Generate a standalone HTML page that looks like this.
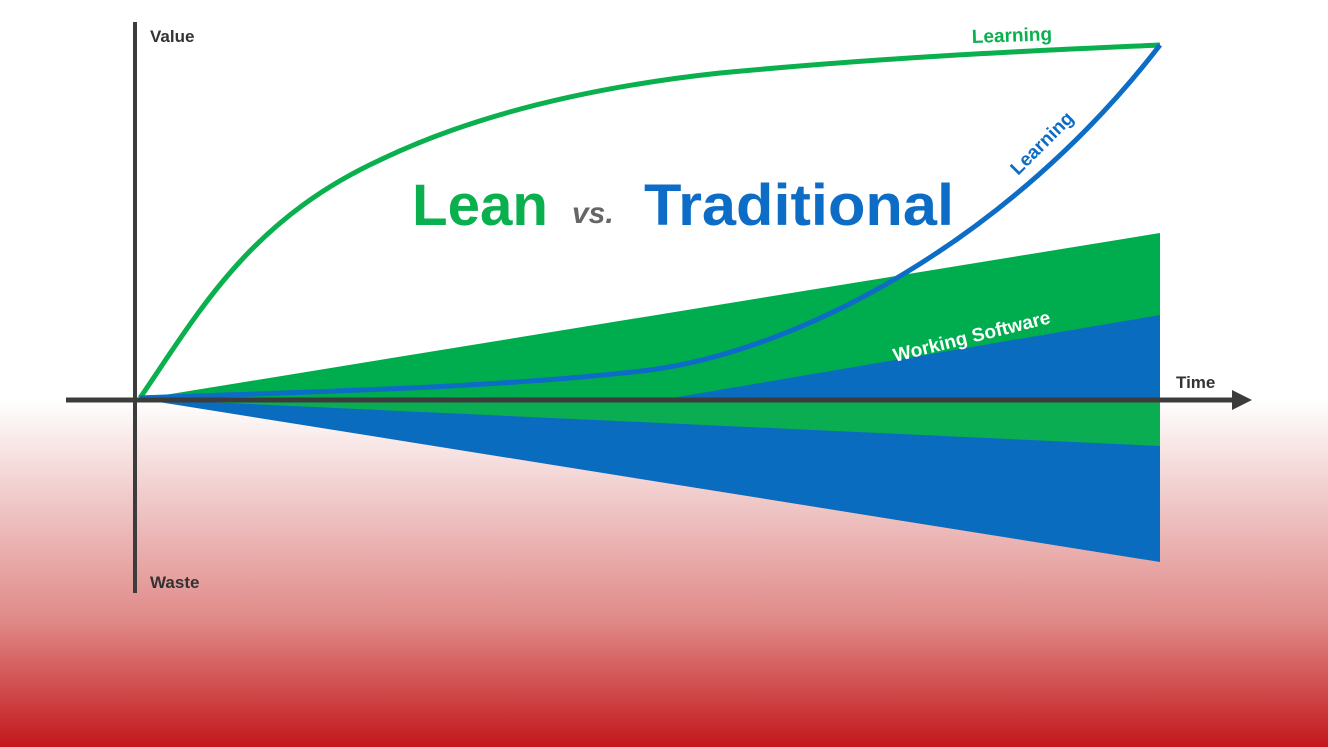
<!DOCTYPE html>
<html><head><style>
html,body{margin:0;padding:0;}
body{width:1328px;height:747px;overflow:hidden;background:linear-gradient(to bottom,#fff 0,#fff 400px,#f0c9c9 500px,#e08a88 620px,#c3171b 747px);font-family:"Liberation Sans",sans-serif;}
</style></head><body>
<svg width="1328" height="747" viewBox="0 0 1328 747" xmlns="http://www.w3.org/2000/svg" style="position:absolute;left:0;top:0">
<polygon points="140,399 1160,233 1160,400" fill="#00ad4e"/>
<polygon points="660,400 1160,315 1160,400" fill="#0a6cbe"/>
<polygon points="140,399 1160,562 1160,400" fill="#0a6cbe"/>
<polygon points="140,399 1160,446 1160,400" fill="#0aad52"/>
<path d="M140,398 C200,310 250,220 380,160 C480,112 600,86 720,73 C900,56 1050,50 1160,45" fill="none" stroke="#0aaf4e" stroke-width="5"/>
<path d="M140,398 C300,392 500,388 650,370 C800,350 1010,240 1160,45" fill="none" stroke="#0d6cc6" stroke-width="5"/>
<line x1="135" y1="22" x2="135" y2="593" stroke="#3c3c3c" stroke-width="4"/>
<line x1="66" y1="400" x2="1238" y2="400" stroke="#3c3c3c" stroke-width="5"/>
<polygon points="1232,390 1252,400 1232,410" fill="#3c3c3c"/>
<text x="150" y="42" font-size="17" font-weight="bold" fill="#333">Value</text>
<text x="150" y="588" font-size="17" font-weight="bold" fill="#333">Waste</text>
<text x="1176" y="388" font-size="17" font-weight="bold" fill="#333">Time</text>
<text x="972" y="43" font-size="19" font-weight="bold" fill="#0aaf4e" transform="rotate(-2 972 43)">Learning</text>
<text x="1018" y="176" font-size="19" font-weight="bold" fill="#0d6cc6" transform="rotate(-45 1018 176)">Learning</text>
<text x="895" y="362" font-size="19" font-weight="bold" fill="#fff" transform="rotate(-14 895 362)">Working Software</text>
<text x="412" y="225" font-size="58" font-weight="bold" fill="#0aaf4e" textLength="136" lengthAdjust="spacingAndGlyphs">Lean</text>
<text x="572" y="223" font-size="30" font-weight="bold" font-style="italic" fill="#666">vs.</text>
<text x="644" y="225" font-size="58" font-weight="bold" fill="#0d6cc6" textLength="310" lengthAdjust="spacingAndGlyphs">Traditional</text>
</svg>
</body></html>
